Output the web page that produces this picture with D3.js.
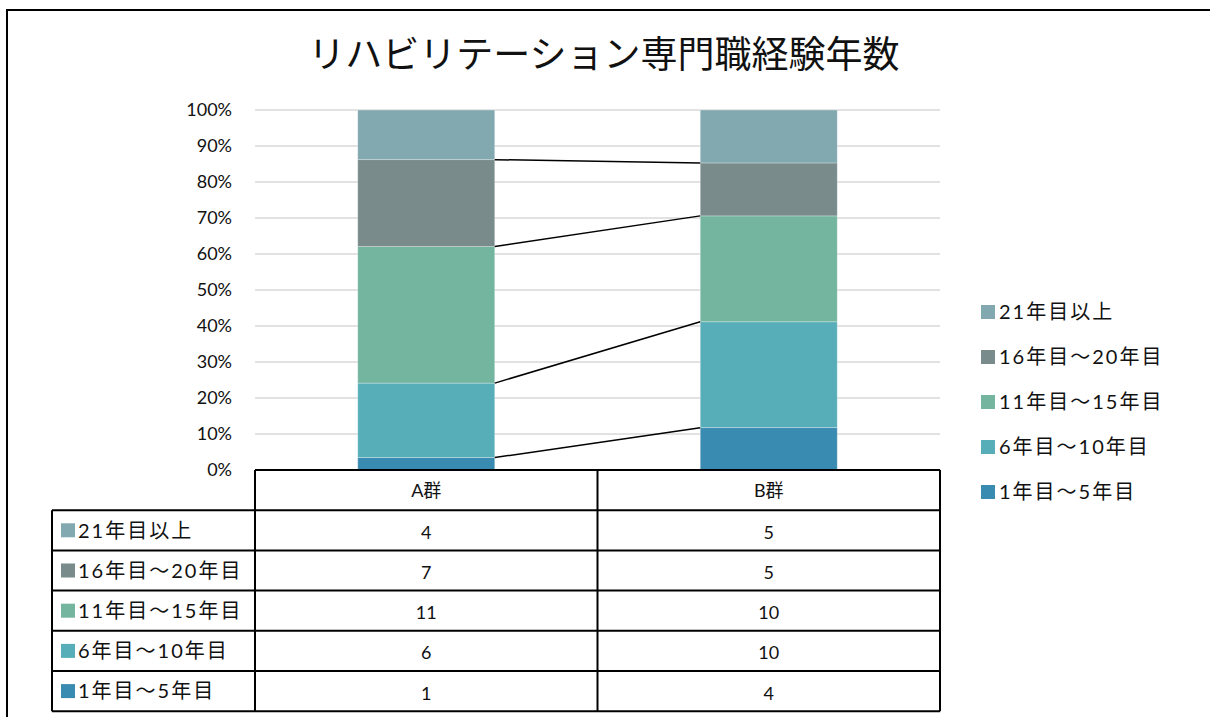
<!DOCTYPE html>
<html>
<head>
<meta charset="utf-8">
<script src="https://cdn.jsdelivr.net/npm/d3@7"></script>
<style>
  html, body { margin: 0; padding: 0; background: #fff; }
  svg { display: block; }
  text { font-family: Lato, "Noto Sans CJK JP", sans-serif; fill: #111; }
</style>
</head>
<body>
<svg id="chart" width="1210" height="717"></svg>
<script>
// Groups compared and the experience bands (bottom to top of each stack)
const groups = ["A群", "B群"];
const bands = ["1年目～5年目", "6年目～10年目", "11年目～15年目", "16年目～20年目", "21年目以上"];
// Headcounts per band for each group
const countsA = [1, 6, 11, 7, 4];
const countsB = [4, 10, 10, 5, 5];
const yTicks = [0, 0.1, 0.2, 0.3, 0.4, 0.5, 0.6, 0.7, 0.8, 0.9, 1.0];
const bandColors = ["#3A8BB1", "#58AEB8", "#74B59F", "#798B8B", "#82A8B0"];

const svg = d3.select("#chart");

// frame
svg.append("path")
  .attr("d", "M7,717 L7,10 L1210,10")
  .attr("fill", "none").attr("stroke", "#000").attr("stroke-width", 2);

// title
svg.append("text")
  .attr("x", 604).attr("y", 68)
  .attr("text-anchor", "middle")
  .style("font-family", "'Noto Sans CJK JP', sans-serif")
  .style("font-size", "37px")
  .text("リハビリテーション専門職経験年数");

const plot = { left: 255, right: 940, top: 110, bottom: 470 };

const x = d3.scaleBand().domain(groups).range([plot.left, plot.right]).paddingInner(0).paddingOuter(0);
const y = d3.scaleLinear().domain([0, 1]).range([plot.bottom, plot.top]);
const barW = x.bandwidth() * 0.4;

// grid lines
svg.append("g").selectAll("line").data(yTicks.filter(d => d > 0)).join("line")
  .attr("x1", plot.left).attr("x2", plot.right)
  .attr("y1", d => y(d)).attr("y2", d => y(d))
  .attr("stroke", "#d9d9d9").attr("stroke-width", 1.3);

// y axis labels
const yAxis = d3.axisLeft(y).tickValues(yTicks).tickFormat(d3.format(".0%")).tickSize(0).tickPadding(23);
const yg = svg.append("g").attr("transform", `translate(${plot.left},0)`).call(yAxis);
yg.select(".domain").remove();
yg.selectAll("text").style("font-size", "18px").attr("fill", "#111")
  .style("font-family", "Lato, 'Noto Sans CJK JP', sans-serif");

// stacked shares
const rows = groups.map((g, i) => {
  const c = i === 0 ? countsA : countsB;
  const total = d3.sum(c);
  const o = { group: g };
  bands.forEach((b, j) => o[b] = c[j] / total);
  return o;
});
const stack = d3.stack().keys(bands)(rows);

const segs = svg.append("g");
stack.forEach((layer, j) => {
  segs.selectAll(null).data(layer).join("rect")
    .attr("x", d => x(d.data.group) + (x.bandwidth() - barW) / 2)
    .attr("width", barW)
    .attr("y", d => y(d[1]))
    .attr("height", d => y(d[0]) - y(d[1]))
    .attr("fill", bandColors[j])
    .attr("stroke", "rgba(255,255,255,0.35)").attr("stroke-width", 0.8);
});

// series lines between stacks
const connectors = svg.append("g");
stack.slice(0, bands.length - 1).forEach(layer => {
  const a = layer[0], b = layer[1];
  connectors.append("line")
    .attr("x1", x(groups[0]) + (x.bandwidth() + barW) / 2)
    .attr("y1", y(a[1]))
    .attr("x2", x(groups[1]) + (x.bandwidth() - barW) / 2)
    .attr("y2", y(b[1]))
    .attr("stroke", "#000").attr("stroke-width", 1.5);
});

// data table
const rowH = 40.2;
const tableLeft = 52;
const table = svg.append("g");
function hline(x1, x2, yy) {
  table.append("line").attr("x1", x1).attr("x2", x2).attr("y1", yy).attr("y2", yy)
    .attr("stroke", "#000").attr("stroke-width", 2);
}
function vline(xx, y1, y2) {
  table.append("line").attr("x1", xx).attr("x2", xx).attr("y1", y1).attr("y2", y2)
    .attr("stroke", "#000").attr("stroke-width", 2);
}
const tableTop = plot.bottom;
const nRows = bands.length;
hline(plot.left, plot.right, tableTop);
for (let r = 1; r <= nRows + 1; r++) hline(tableLeft, plot.right, tableTop + r * rowH);
vline(plot.left, tableTop, tableTop + (nRows + 1) * rowH);
vline(x(groups[1]), tableTop, tableTop + (nRows + 1) * rowH);
vline(plot.right, tableTop, tableTop + (nRows + 1) * rowH);
vline(tableLeft, tableTop + rowH, tableTop + (nRows + 1) * rowH);

// header
groups.forEach(g => {
  table.append("text")
    .attr("x", x(g) + x.bandwidth() / 2).attr("y", tableTop + rowH / 2)
    .attr("dy", "0.36em").attr("text-anchor", "middle")
    .style("font-size", "18px").text(g);
});

// rows listed top band first
const order = bands.map((b, j) => j).reverse();
order.forEach((j, r) => {
  const cy = tableTop + (r + 1) * rowH + rowH / 2;
  table.append("rect").attr("x", 61).attr("y", cy - 7).attr("width", 14).attr("height", 14)
    .attr("fill", bandColors[j]);
  table.append("text").attr("x", 78).attr("y", cy).attr("dy", "0.36em")
    .style("font-size", "20px").style("letter-spacing", "2px").text(bands[j]);
  [countsA, countsB].forEach((c, gi) => {
    table.append("text")
      .attr("x", x(groups[gi]) + x.bandwidth() / 2).attr("y", cy + 2)
      .attr("dy", "0.36em").attr("text-anchor", "middle")
      .style("font-size", "18px").text(c[j]);
  });
});

// legend
const legend = svg.append("g");
order.forEach((j, r) => {
  const cy = 312 + r * 45;
  legend.append("rect").attr("x", 981).attr("y", cy - 7).attr("width", 14).attr("height", 14)
    .attr("fill", bandColors[j]);
  legend.append("text").attr("x", 999).attr("y", cy).attr("dy", "0.36em")
    .style("font-size", "20px").style("letter-spacing", "2px").text(bands[j]);
});
</script>
</body>
</html>
